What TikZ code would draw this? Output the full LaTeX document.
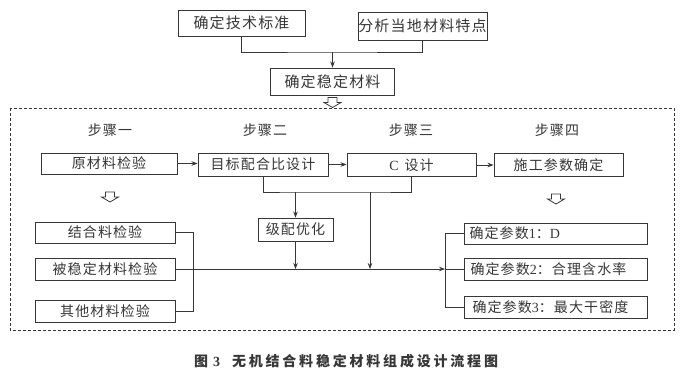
\documentclass[tikz,border=0pt]{standalone}
\usepackage{fontspec}
\setmainfont{Liberation Serif}
\newfontfamily\cjk[LetterSpace=8]{Noto Sans CJK SC}
\newfontfamily\cjkcap[LetterSpace=20]{Noto Sans CJK SC}
\usetikzlibrary{arrows.meta}
\definecolor{ink}{RGB}{55,55,55}
\tikzset{
  box/.style={draw=ink, line width=0.9pt, inner sep=0pt, font=\fontsize{14}{16}\selectfont\cjk, text=ink},
  bigbox/.style={box, font=\fontsize{15}{17}\selectfont\cjk},
  steplabel/.style={inner sep=0pt, font=\fontsize{14}{16}\selectfont\cjk, text=ink},
  conn/.style={draw=ink, line width=0.8pt},
  arr/.style={conn, -{Stealth[length=6pt,width=4.5pt]}},
  hollow/.style={draw=ink, line width=0.8pt, fill=white},
}
\newcommand{\hollowdown}[2]{%
  \draw[hollow] (#1-4.5,#2) -- (#1+4.5,#2) -- (#1+4.5,#2+5) -- (#1+8.5,#2+5) -- (#1,#2+10) -- (#1-8.5,#2+5) -- (#1-4.5,#2+5) -- cycle;}
\begin{document}
\begin{tikzpicture}[x=1pt,y=-1pt]
\useasboundingbox[fill=white] (0,0) rectangle (683,381);
% top part
\node[bigbox, minimum width=127pt, minimum height=26pt] (b1) at (241.5,23) {确定技术标准};
\node[bigbox, minimum width=129pt, minimum height=28pt] (b2) at (422.5,26) {分析当地材料特点};
\node[bigbox, minimum width=124pt, minimum height=27pt] (b3) at (332.5,81.5) {确定稳定材料};
\coordinate (j1) at (332.5,52);
\draw[conn] (b1.south) |- (j1) -| (b2.south);
\draw[arr] (j1) -- (b3.north);
% dashed frame
\draw[ink, line width=0.8pt, dash pattern=on 3pt off 2pt] (10,108) rectangle (674,330);
\hollowdown{332.5}{97.5}
% step labels
\node[steplabel] (s1) at (110,130) {步骤一};
\node[steplabel] (s2) at (265,130) {步骤二};
\node[steplabel] (s3) at (411,130) {步骤三};
\node[steplabel] (s4) at (557,130) {步骤四};
% row boxes
\node[box, minimum width=136pt, minimum height=21pt] (r1) at (109,163.5) {原材料检验};
\node[box, minimum width=130pt, minimum height=23pt] (r2) at (263,164.5) {目标配合比设计};
\node[box, minimum width=129pt, minimum height=23pt] (r3) at (411.5,165) {{\rmfamily C}\hspace{6pt}设计};
\node[box, minimum width=129pt, minimum height=23pt] (r4) at (558.5,165) {施工参数确定};
\draw[arr] (r1.east) -- (r2.west |- r1.east);
\draw[arr] (r2.east) -- (r3.west |- r2.east);
\draw[arr] (r3.east) -- (r4.west |- r3.east);
\hollowdown{110}{192}
\hollowdown{556}{194}
% level-2
\node[box, minimum width=75pt, minimum height=23pt] (jp) at (295.5,229.5) {级配优化};
\coordinate (ja) at (295.5,192);
\coordinate (jb) at (370,192);
\draw[conn] (r2.south) |- (ja) -- (jb) -| (r3.south);
\draw[arr] (ja) -- (jp.north);
\coordinate (jc) at (295.5,269);
\coordinate (jd) at (370,269);
\draw[arr] (jp.south) -- (jc);
\draw[arr] (jb) -- (jd);
% left boxes
\node[box, minimum width=140pt, minimum height=21pt] (l1) at (105,232.5) {结合料检验};
\node[box, minimum width=140pt, minimum height=22pt] (l2) at (105,269) {被稳定材料检验};
\node[box, minimum width=140pt, minimum height=22pt] (l3) at (105,311) {其他材料检验};
\coordinate (lb1) at (193,232.5);
\coordinate (lb2) at (193,311);
\draw[conn] (l1.east) -- (lb1) -- (lb2) -- (l3.east);
% right boxes
\node[box, minimum width=183pt, minimum height=21pt, text width=172pt, align=left] (p1) at (555.5,233.5) {确定参数{\rmfamily 1}：{\rmfamily D}};
\node[box, minimum width=183pt, minimum height=22pt, text width=172pt, align=left] (p2) at (555.5,269) {\hspace{1pt}确定参数{\rmfamily 2}：合理含水率};
\node[box, minimum width=183pt, minimum height=22pt, text width=172pt, align=left] (p3) at (555.5,307) {\hspace{3pt}确定参数{\rmfamily 3}：最大干密度};
\coordinate (rb1) at (445,233.5);
\coordinate (rb2) at (445,307);
\coordinate (rbm) at (445,269);
\draw[conn] (p1.west) -- (rb1) -- (rb2) -- (p3.west);
\draw[conn] (rbm) -- (p2.west);
\draw[arr] (l2.east) -- (rbm);
% caption
\node[inner sep=0pt, font=\fontsize{14}{16}\selectfont\cjkcap\bfseries, text=ink] (cap) at (346,361) {图{\rmfamily\bfseries\hspace{5pt}3}\hspace{12pt}无机结合料稳定材料组成设计流程图};
\end{tikzpicture}
\end{document}
